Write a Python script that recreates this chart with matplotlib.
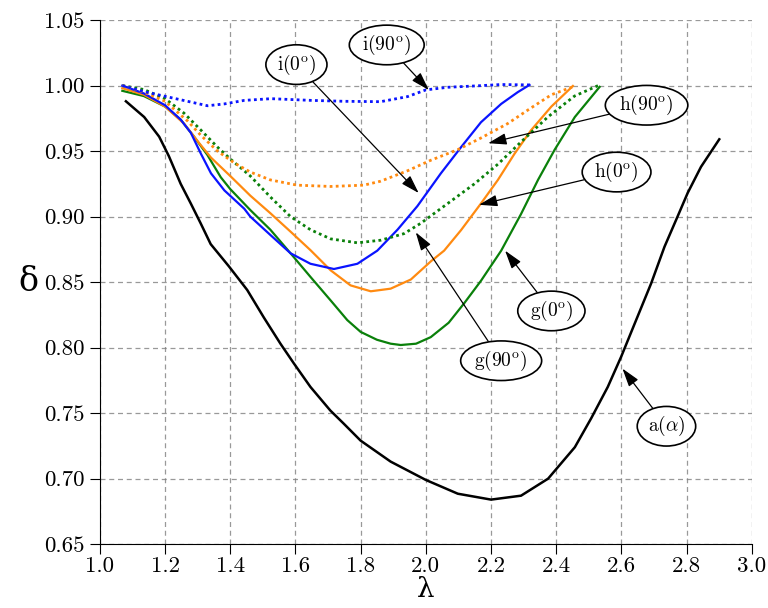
import matplotlib
matplotlib.use("Agg")
from matplotlib import pyplot as plt

plt.rcParams['font.family'] = 'serif'
plt.rcParams['font.serif'] = ['cmr10']
plt.rcParams['mathtext.fontset'] = 'cm'
plt.rcParams['axes.formatter.use_mathtext'] = True

# a(alpha) - black
a_x = [1.080, 1.136, 1.182, 1.212, 1.248, 1.279, 1.309, 1.340, 1.396, 1.452, 1.503, 1.554, 1.595, 1.646,
       1.707, 1.748, 1.800, 1.892, 2.000, 2.098, 2.200, 2.292, 2.375, 2.457, 2.507, 2.558, 2.599, 2.640,
       2.691, 2.732, 2.772, 2.803, 2.844, 2.900]
a_y = [0.988, 0.976, 0.961, 0.946, 0.925, 0.910, 0.895, 0.879, 0.862, 0.844, 0.823, 0.803, 0.788, 0.770,
       0.752, 0.742, 0.729, 0.713, 0.699, 0.6885, 0.684, 0.687, 0.700, 0.724, 0.746, 0.770, 0.793, 0.818,
       0.849, 0.877, 0.900, 0.918, 0.938, 0.959]

# g(0) - green solid
g0_x = [1.069, 1.135, 1.200, 1.248, 1.289, 1.330, 1.371, 1.400, 1.4615, 1.523, 1.585, 1.646, 1.708, 1.759,
        1.800, 1.850, 1.892, 1.923, 1.970, 2.015, 2.070, 2.118, 2.169, 2.231, 2.292, 2.344, 2.395, 2.457, 2.533]
g0_y = [0.996, 0.992, 0.984, 0.974, 0.961, 0.947, 0.930, 0.921, 0.905, 0.890, 0.872, 0.854, 0.836, 0.821,
        0.812, 0.806, 0.803, 0.802, 0.803, 0.808, 0.819, 0.834, 0.851, 0.874, 0.902, 0.928, 0.951, 0.976, 0.999]

# g(90) - green dotted
g90_x = [1.069, 1.135, 1.200, 1.258, 1.310, 1.361, 1.400, 1.4615, 1.523, 1.585, 1.646, 1.708, 1.790, 1.862,
         1.933, 1.985, 2.067, 2.149, 2.221, 2.292, 2.374, 2.456, 2.533]
g90_y = [1.000, 0.997, 0.990, 0.979, 0.966, 0.953, 0.944, 0.931, 0.915, 0.900, 0.890, 0.883, 0.880, 0.882,
         0.887, 0.895, 0.910, 0.925, 0.940, 0.957, 0.976, 0.992, 1.0005]

# h(0) - orange solid
h0_x = [1.069, 1.135, 1.200, 1.258, 1.305, 1.341, 1.400, 1.4615, 1.523, 1.585, 1.646, 1.708, 1.769, 1.831,
        1.892, 1.954, 2.016, 2.056, 2.108, 2.169, 2.221, 2.272, 2.323, 2.385, 2.451]
h0_y = [0.998, 0.993, 0.984, 0.971, 0.956, 0.945, 0.931, 0.916, 0.9026, 0.8885, 0.8744, 0.859, 0.8475, 0.843,
        0.845, 0.852, 0.866, 0.874, 0.8897, 0.910, 0.928, 0.948, 0.966, 0.984, 0.9997]

# h(90) - orange dotted
h90_x = [1.069, 1.135, 1.200, 1.269, 1.310, 1.361, 1.412, 1.4615, 1.523, 1.605, 1.708, 1.810, 1.861, 1.944,
         2.015, 2.097, 2.169, 2.251, 2.323, 2.385, 2.450]
h90_y = [1.000, 0.995, 0.988, 0.973, 0.962, 0.950, 0.941, 0.934, 0.928, 0.924, 0.923, 0.924, 0.927, 0.935,
         0.943, 0.951, 0.960, 0.971, 0.983, 0.993, 0.999]

# i(0) - blue solid
i0_x = [1.069, 1.135, 1.200, 1.248, 1.279, 1.310, 1.341, 1.382, 1.443, 1.4615, 1.523, 1.585, 1.646, 1.718,
        1.790, 1.851, 1.913, 1.974, 2.046, 2.108, 2.169, 2.231, 2.282, 2.318]
i0_y = [1.000, 0.994, 0.985, 0.974, 0.964, 0.948, 0.933, 0.920, 0.906, 0.900, 0.886, 0.872, 0.864, 0.860,
        0.864, 0.874, 0.890, 0.908, 0.933, 0.953, 0.972, 0.986, 0.995, 1.0005]

# i(90) - blue dotted
i90_x = [1.069, 1.135, 1.200, 1.269, 1.330, 1.382, 1.443, 1.525, 1.648, 1.750, 1.861, 1.944, 2.000, 2.067,
         2.149, 2.231, 2.318]
i90_y = [1.000, 0.9954, 0.9918, 0.988, 0.9846, 0.986, 0.9887, 0.990, 0.9887, 0.988, 0.9877, 0.9916, 0.9967,
         0.9987, 0.9997, 1.0008, 1.0005]

labels = [r'$\mathrm{i}(90^{\mathrm{o}})$', r'$\mathrm{i}(0^{\mathrm{o}})$', r'$\mathrm{h}(90^{\mathrm{o}})$',
          r'$\mathrm{h}(0^{\mathrm{o}})$', r'$\mathrm{g}(0^{\mathrm{o}})$', r'$\mathrm{g}(90^{\mathrm{o}})$',
          r'$\mathrm{a}(\alpha)$']
tips = [(2.009, 0.9966), (1.978, 0.918), (2.191, 0.956), (2.163, 0.909), (2.243, 0.874), (1.969, 0.888), (2.603, 0.784)]
boxes = [(1.88, 1.031), (1.603, 1.016), (2.677, 0.985), (2.585, 0.934), (2.385, 0.828), (2.231, 0.790), (2.738, 0.740)]

fig = plt.figure(figsize=(7.68, 6.08), dpi=100)
ax = fig.add_axes([0.130, 0.105, 0.849, 0.862])

blue = '#0a14ff'
orange = '#ff8a10'
green = '#0a800a'
ax.plot(a_x, a_y, color='black', lw=1.8)
ax.plot(g0_x, g0_y, color=green, lw=1.6)
ax.plot(h0_x, h0_y, color=orange, lw=1.6)
ax.plot(i0_x, i0_y, color=blue, lw=1.6)
ax.plot(g90_x, g90_y, color=green, lw=2, ls=(0, (1, 1.2)))
ax.plot(h90_x, h90_y, color=orange, lw=2, ls=(0, (1, 1.2)))
ax.plot(i90_x, i90_y, color=blue, lw=2, ls=(0, (1, 1.2)))

for lab, tip, box in zip(labels, tips, boxes):
    ax.annotate(lab, xy=tip, xytext=box, fontsize=14, ha='center', va='center',
                bbox=dict(boxstyle='ellipse,pad=0.1', fc='white', ec='black', lw=1.2),
                arrowprops=dict(arrowstyle='-|>,head_length=0.8,head_width=0.25', color='black', lw=0.9,
                                shrinkA=0, shrinkB=0))

ax.set_xlim(1.0, 3.0)
ax.set_ylim(0.65, 1.05)
ax.set_xticks([1.0, 1.2, 1.4, 1.6, 1.8, 2.0, 2.2, 2.4, 2.6, 2.8, 3.0])
ax.set_yticks([0.65, 0.70, 0.75, 0.80, 0.85, 0.90, 0.95, 1.00, 1.05])
ax.set_xticklabels(['1.0', '1.2', '1.4', '1.6', '1.8', '2.0', '2.2', '2.4', '2.6', '2.8', '3.0'])
ax.set_yticklabels(['0.65', '0.70', '0.75', '0.80', '0.85', '0.90', '0.95', '1.00', '1.05'])
ax.tick_params(direction='out', length=7, labelsize=16.5)
ax.tick_params(axis='x', pad=2)
ax.tick_params(axis='y', pad=4)
ax.spines['top'].set_visible(False)
ax.spines['right'].set_visible(False)
ax.grid(True, color='gray', ls=(0, (4, 3)), lw=0.9, alpha=0.8)
ax.set_axisbelow(True)
ax.set_xlabel('λ', fontsize=20, family='DejaVu Serif', labelpad=0)
ax.set_ylabel('δ', fontsize=24, family='DejaVu Serif', rotation=0, va='center')
ax.yaxis.set_label_coords(-0.11, 0.5)

fig.savefig('out.png', dpi=100)
